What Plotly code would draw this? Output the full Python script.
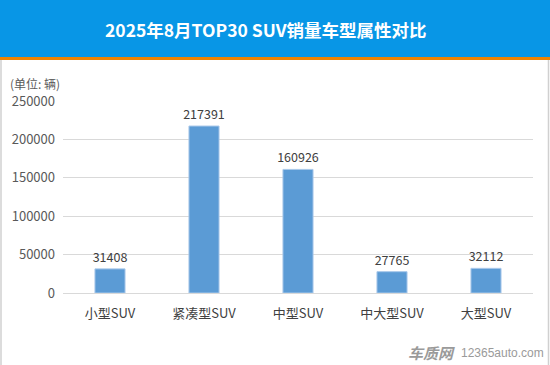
import plotly.graph_objects as go

categories = ["小型SUV", "紧凑型SUV", "中型SUV", "中大型SUV", "大型SUV"]
sales = [31408, 217391, 160926, 27765, 32112]
y_ticks = [0, 50000, 100000, 150000, 200000, 250000]

W, H = 550, 365
L, R, T, B = 63, 17, 101, 72
PW, PH = W - L - R, H - T - B

def px(x):
    return (x - L) / PW

def py(y):
    return (H - B - y) / PH

font_family = "Noto Sans CJK SC, Microsoft YaHei, sans-serif"

fig = go.Figure()
fig.add_trace(go.Bar(
    x=categories, y=sales,
    marker=dict(color="#5B9BD5", line=dict(color="#A9C8EA", width=1)),
    width=0.32,
    text=[str(v) for v in sales], textposition="outside", constraintext="none",
    textfont=dict(size=12.5, color="#404040", family=font_family),
    cliponaxis=False,
))

shapes = [
    dict(type="rect", xref="paper", yref="paper", x0=px(0), x1=px(W), y0=py(57), y1=py(0),
         fillcolor="#0896E6", line=dict(width=0), layer="below"),
    dict(type="rect", xref="paper", yref="paper", x0=px(0), x1=px(W), y0=py(60), y1=py(57),
         fillcolor="#F08300", line=dict(width=0), layer="below"),
    dict(type="line", xref="paper", yref="paper", x0=px(1), x1=px(1), y0=py(H), y1=py(60),
         line=dict(color="#D0D0D0", width=1.5)),
    dict(type="line", xref="paper", yref="paper", x0=px(548.5), x1=px(548.5), y0=py(H), y1=py(60),
         line=dict(color="#D0D0D0", width=1.5)),
]

annotations = [
    dict(text="<b>2025年8月TOP30 SUV销量车型属性对比</b>", xref="paper", yref="paper",
         x=px(266), y=py(29), showarrow=False, xanchor="center", yanchor="middle",
         font=dict(size=17.5, color="white", family=font_family)),
    dict(text="(单位: 辆)", xref="paper", yref="paper", x=px(8), y=py(83),
         showarrow=False, xanchor="left", yanchor="middle",
         font=dict(size=12, color="#595959", family=font_family)),
    dict(text="<b><i>车质网</i></b>", xref="paper", yref="paper", x=px(457), y=py(352),
         showarrow=False, xanchor="right", yanchor="middle",
         font=dict(size=15, color="#9A9A9A", family=font_family)),
    dict(text="12365auto.com", xref="paper", yref="paper", x=px(459), y=py(353),
         showarrow=False, xanchor="left", yanchor="middle",
         font=dict(size=12, color="#9A9A9A", family="Liberation Sans, Arial, sans-serif")),
]

fig.update_layout(
    width=W, height=H,
    margin=dict(l=L, r=R, t=T, b=B, pad=0),
    paper_bgcolor="white", plot_bgcolor="white",
    showlegend=False,
    shapes=shapes, annotations=annotations,
    font=dict(family=font_family, color="#595959", size=13),
    xaxis=dict(showgrid=False, showline=True, linecolor="#D9D9D9", linewidth=1,
               ticks="", ticklabelstandoff=8, tickfont=dict(size=13, color="#404040")),
    yaxis=dict(range=[0, 250000], tickvals=y_ticks, ticktext=[str(v) for v in y_ticks],
               showgrid=True, gridcolor="#D9D9D9", gridwidth=1, zeroline=False,
               showline=False, ticks="", ticklen=0, ticklabelstandoff=7,
               tickfont=dict(size=13, color="#595959")),
    bargap=0.68,
)

fig.write_html("out.html", config={"displayModeBar": False},
               post_script="document.body.style.margin='0';document.body.style.overflow='hidden';")
